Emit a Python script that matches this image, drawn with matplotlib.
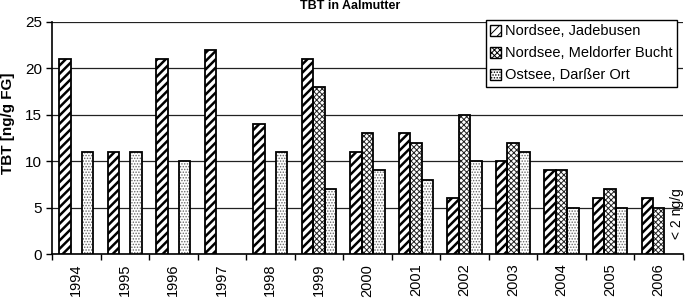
import numpy as np
import matplotlib.pyplot as plt
import matplotlib.patches as mpatches

# --- Daten ---
years = ['1994', '1995', '1996', '1997', '1998', '1999', '2000',
         '2001', '2002', '2003', '2004', '2005', '2006']
jadebusen = [21, 11, 21, 22, 14, 21, 11, 13, 6, 10, 9, 6, 6]
meldorf = [np.nan, np.nan, np.nan, np.nan, np.nan, 18, 13, 12, 15, 12, 9, 7, 5]
darss = [11, 11, 10, np.nan, 11, 7, 9, 8, 10, 11, 5, 5, np.nan]
labels = ['Nordsee, Jadebusen', 'Nordsee, Meldorfer Bucht', 'Ostsee, Darßer Ort']

plt.rcParams['font.family'] = ['Liberation Sans', 'DejaVu Sans']

fig = plt.figure(figsize=(6.85, 2.99), dpi=100)
ax = fig.add_axes([0.0759, 0.1505, 0.921, 0.776])

x = np.arange(len(years))
w = 0.235
# (Werte, Versatz, Schraffur, Schraffurfarbe, Schraffur-Linienbreite)
series = [
    (jadebusen, -w, '////', 'black', 1.8),
    (meldorf, 0, 'xxxxxx', '#222222', 0.7),
    (darss, w, '......', '#666666', 0.7),
]
for vals, off, hatch, hcol, hlw in series:
    vals = np.array(vals, dtype=float)
    plt.rcParams['hatch.linewidth'] = hlw
    ax.bar(x + off, vals, w, facecolor='white', edgecolor=hcol, hatch=hatch,
           linewidth=0, zorder=3)
    ax.bar(x + off, vals, w, facecolor='none', edgecolor='black',
           linewidth=1.3, zorder=4)

proxies = []
for vals, off, hatch, hcol, hlw in series:
    proxies.append(mpatches.Patch(facecolor='white', edgecolor='black',
                                  hatch=hatch, linewidth=1.0))

ax.text(12.37, 4.4, '< 2 ng/g', rotation=90, ha='center', va='center',
        fontsize=10, zorder=5)

ax.set_ylim(0, 25)
ax.set_xlim(-0.5, len(years) - 0.5)
ax.set_yticks([0, 5, 10, 15, 20, 25])
ax.yaxis.grid(True, color='#222222', linewidth=0.9)
ax.set_axisbelow(True)

ax.set_xticks(x)
ax.set_xticklabels(years, rotation=90, fontsize=10.5)
ax.set_xticks(np.arange(-0.5, len(years), 1), minor=True)
ax.tick_params(axis='x', which='major', length=0, pad=7)
ax.tick_params(axis='x', which='minor', length=4, width=1, direction='out')
ax.tick_params(axis='y', length=4, width=1, direction='out', labelsize=11, pad=3)

for s in ['top', 'right']:
    ax.spines[s].set_visible(False)
ax.spines['left'].set_linewidth(1.2)
ax.spines['bottom'].set_linewidth(1.2)

ax.set_ylabel('TBT [ng/g FG]', fontsize=11, fontweight='bold')
ax.yaxis.set_label_coords(-0.0586, 0.565)
fig.text(0.511, 0.98, 'TBT in Aalmutter', fontsize=9, fontweight='bold',
         ha='center', va='center')

leg = ax.legend(proxies, labels, loc='upper right', bbox_to_anchor=(0.990, 1.009),
                fontsize=10.5, frameon=True, fancybox=False, framealpha=1,
                edgecolor='black', handlelength=0.75, handleheight=0.75,
                handletextpad=0.25, borderpad=0.3, labelspacing=0.55,
                borderaxespad=0)
leg.get_frame().set_linewidth(1.0)
leg.set_zorder(6)

plt.savefig('out.png', dpi=100)
